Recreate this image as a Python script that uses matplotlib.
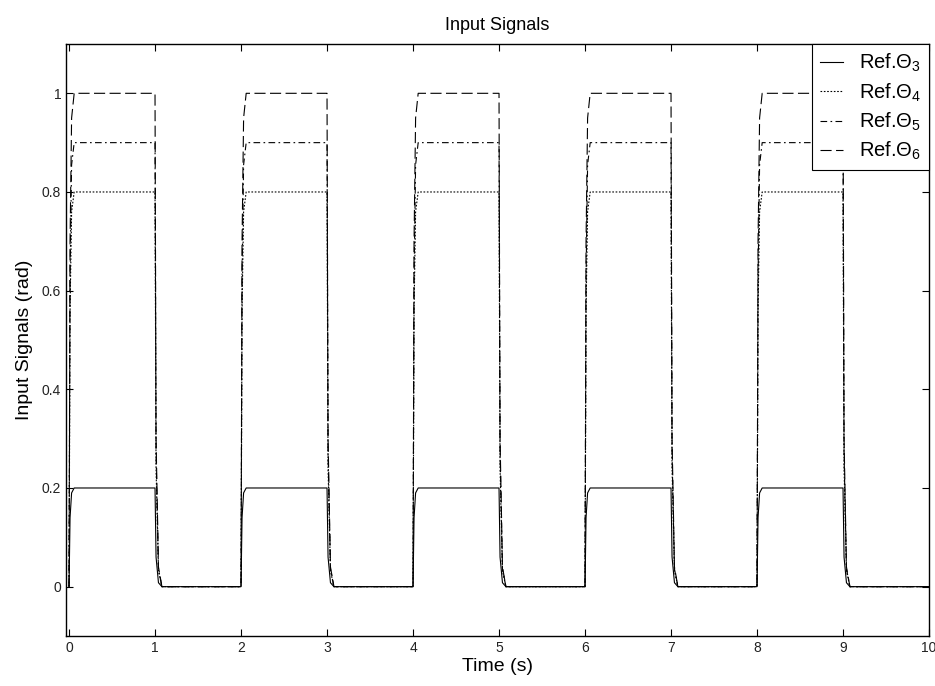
import matplotlib
matplotlib.use("Agg")
import matplotlib.pyplot as plt
import numpy as np
from matplotlib.ticker import FuncFormatter

plt.rcParams['font.family'] = ['Liberation Sans', 'DejaVu Sans']
plt.rcParams['mathtext.fontset'] = 'custom'
plt.rcParams['mathtext.rm'] = 'Liberation Sans'
plt.rcParams['mathtext.it'] = 'Liberation Sans'

# data
labels = ['Ref.Θ$_3$', 'Ref.Θ$_4$', 'Ref.Θ$_5$', 'Ref.Θ$_6$']
levels = [0.2, 0.8, 0.9, 1.0]
on_times = [0, 2, 4, 6, 8]
off_times = [1, 3, 5, 7, 9]
t_end = 10
# transient shape: (time offset, fraction of level)
rise_shape_t = [0.0, 0.012, 0.03, 0.06]
rise_shape_y = [0.0, 0.7, 0.95, 1.0]
fall_shape_t = [0.0, 0.012, 0.04, 0.08]
fall_shape_y = [1.0, 0.3, 0.04, 0.0]
x_ticks = [0, 1, 2, 3, 4, 5, 6, 7, 8, 9, 10]
y_ticks = [0, 0.2, 0.4, 0.6, 0.8, 1.0]

styles = [dict(ls='-'), dict(ls=(0, (1.5, 1.5))), dict(ls=(0, (6, 3, 1.5, 3))), dict(ls=(0, (10, 4)))]

def pulse_train(level):
    ts, ys = [], []
    for a, b in zip(on_times, off_times):
        ts += [a + d for d in rise_shape_t]
        ys += [f * level for f in rise_shape_y]
        ts += [b + d for d in fall_shape_t]
        ys += [f * level for f in fall_shape_y]
    ts.append(t_end)
    ys.append(0)
    return ts, ys

fig = plt.figure(figsize=(9.35, 6.86), dpi=100)
ax = fig.add_axes([0.0706, 0.0729, 0.923, 0.863])

for lab, lev, st in zip(labels, levels, styles):
    t, y = pulse_train(lev)
    ax.plot(t, y, color='black', lw=0.8, label=lab, **st)

ax.set_xlim(-0.035, 10)
ax.set_ylim(-0.1, 1.1)
ax.set_xticks(x_ticks)
ax.set_yticks(y_ticks)
ax.yaxis.set_major_formatter(FuncFormatter(lambda v, p: f'{v:g}'))
ax.tick_params(direction='in', top=True, right=True, labelsize=10, length=5, width=0.8,
               labelcolor='#222222')
for s in ax.spines.values():
    s.set_linewidth(1.0)

ax.set_title('Input Signals', fontsize=13, pad=10)
ax.set_xlabel('Time (s)', fontsize=14, labelpad=2)
ax.set_ylabel('Input Signals (rad)', fontsize=14, labelpad=6)

leg = ax.legend(loc='upper right', fontsize=14.5, handlelength=1.1, handletextpad=0.8,
                borderaxespad=0.0, labelspacing=0.35, fancybox=False, framealpha=1,
                edgecolor='black', borderpad=0.4)
leg.get_frame().set_linewidth(0.8)

fig.savefig('out.png', dpi=100)
